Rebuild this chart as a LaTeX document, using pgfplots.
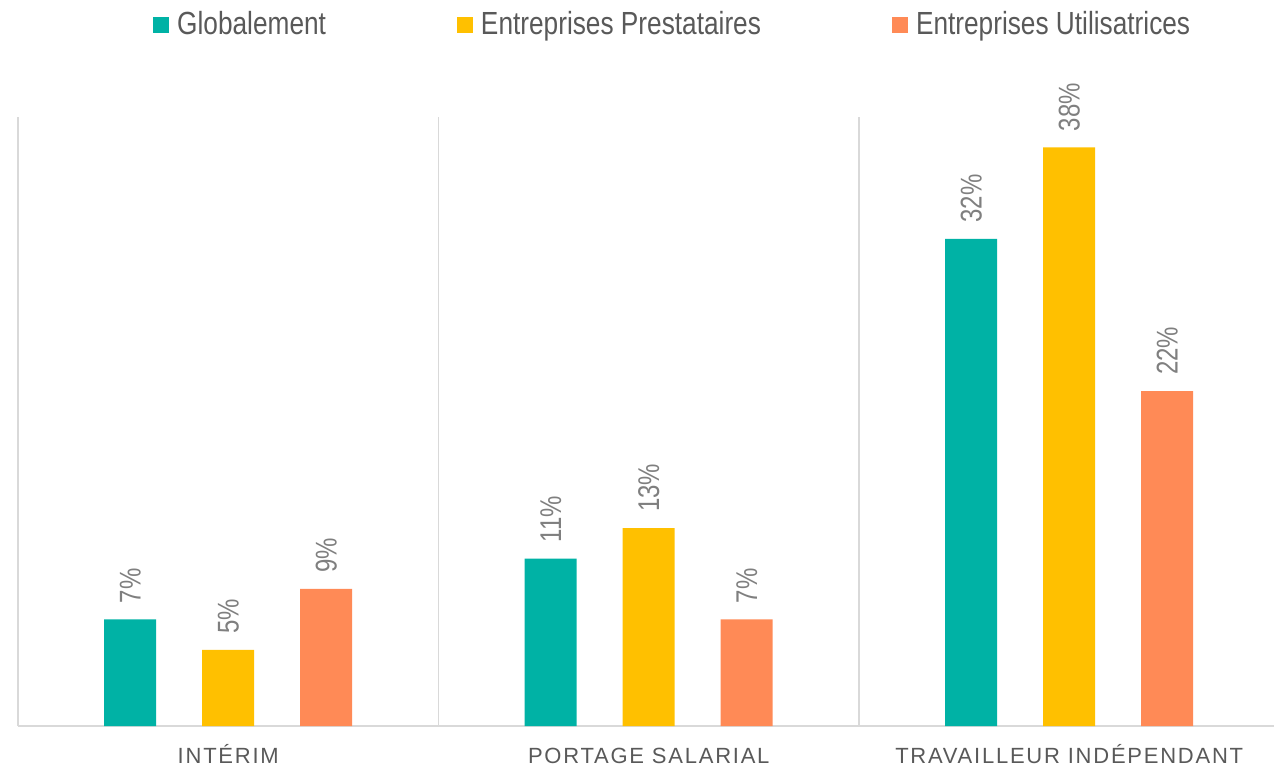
\documentclass[border=0pt]{standalone}
\usepackage{pgfplots}
\pgfplotsset{compat=1.18}
\usepackage{fontspec}
\setmainfont{Liberation Sans}
\newfontfamily\narrowfont[FakeStretch=0.82]{Liberation Sans}
\newfontfamily\lblfont[FakeStretch=0.8]{Liberation Sans}
\newfontfamily\catfont[LetterSpace=8]{Liberation Sans}
\definecolor{cteal}{HTML}{00B2A5}
\definecolor{cgold}{HTML}{FFC000}
\definecolor{corange}{HTML}{FF8A56}
\definecolor{txtgray}{HTML}{595959}
\definecolor{lblgray}{HTML}{7F7F7F}
\definecolor{linegray}{HTML}{D9D9D9}
\begin{document}
\begin{tikzpicture}
\useasboundingbox (0,0) rectangle (1274pt,766pt);
\begin{axis}[
  at={(18pt,40pt)}, anchor=south west,
  scale only axis, width=1256pt, height=609pt,
  ybar, bar width=52pt,
  xmin=-0.5, xmax=2.487, ymin=0, ymax=40,
  axis y line=none, axis x line*=bottom,
  axis line style={draw=linegray, line width=2pt},
  xtick={0,1,2},
  xticklabels={INTÉRIM, PORTAGE SALARIAL, TRAVAILLEUR INDÉPENDANT},
  major tick length=0pt,
  minor xtick={-0.5,0.5,1.5},
  minor tick length=0pt,
  xminorgrids,
  minor grid style={draw=linegray, line width=1.7pt},
  xticklabel style={font=\catfont\fontsize{22pt}{26pt}\selectfont, text=txtgray, anchor=base, inner sep=0pt, yshift=-37.5pt},
  nodes near coords={\pgfmathprintnumber[assume math mode=true]{\pgfplotspointmeta}\%},
  nodes near coords style={font=\lblfont\fontsize{30pt}{34pt}\selectfont, text=lblgray, rotate=90, anchor=west, inner xsep=16pt, inner ysep=0pt},
  legend columns=3,
  legend image code/.code={\fill[#1,draw=none] (0pt,1.5pt) rectangle (16pt,17.5pt);},
  legend style={at={(axis description cs:0.1075,1.174)}, anchor=north west, draw=none, fill=none, inner sep=0pt,
    font=\narrowfont\fontsize{32pt}{36pt}\selectfont, text=txtgray,
    nodes={inner sep=0pt, anchor=base west},
    /tikz/every odd column/.append style={column sep=8pt},
    /tikz/every even column/.append style={column sep=131pt}},
]
\addplot[fill=cteal, draw=none, bar shift=-98pt] coordinates {(0,7) (1,11) (2,32)};
\addplot[fill=cgold, draw=none, bar shift=0pt] coordinates {(0,5) (1,13) (2,38)};
\addplot[fill=corange, draw=none, bar shift=98pt] coordinates {(0,9) (1,7) (2,22)};
\legend{Globalement, Entreprises Prestataires, Entreprises Utilisatrices}
\end{axis}
\end{tikzpicture}
\end{document}
